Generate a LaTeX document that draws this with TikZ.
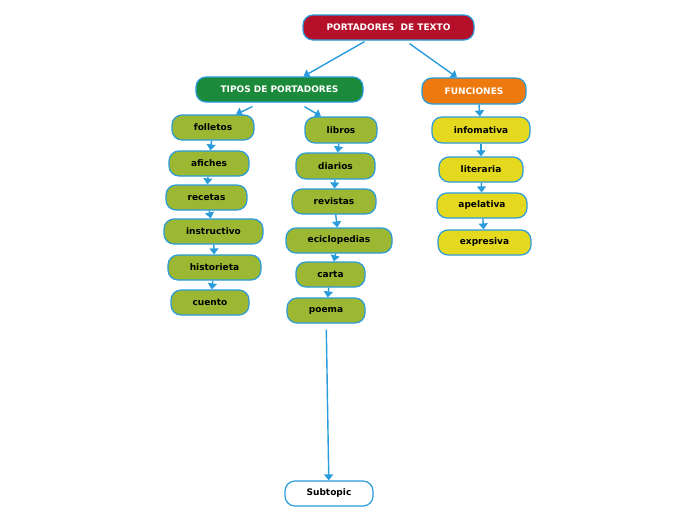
\documentclass[tikz,border=0pt]{standalone}
\usepackage{fontspec}
\setmainfont{DejaVu Sans}
\usetikzlibrary{arrows.meta,calc}
\definecolor{edge}{HTML}{2A9BDB}
\definecolor{rootc}{HTML}{B5102A}
\definecolor{tiposc}{HTML}{1C8A3B}
\definecolor{funcc}{HTML}{EE790F}
\definecolor{leafg}{HTML}{9CB832}
\definecolor{leafy}{HTML}{E5D920}
\tikzset{
  box/.style={draw=edge, line width=1.2pt, rounded corners=10pt, minimum height=25pt, inner sep=0pt, font=\fontsize{9}{11}\selectfont\bfseries, text=black},
  head/.style={box, text=white, font=\fontsize{9}{11}\selectfont\bfseries},
  gleaf/.style={box, fill=leafg},
  yleaf/.style={box, fill=leafy},
  conn/.style={draw=edge, line width=1.4pt, -{Triangle[width=9pt,length=6pt]}}
}
\begin{document}
\begin{tikzpicture}[x=1pt,y=-1pt]
\useasboundingbox (0,0) rectangle (696,520);
\node[head, fill=rootc, minimum width=171pt] (root) at (388.5,27.5) {PORTADORES\ \ DE TEXTO};
\node[head, fill=tiposc, minimum width=167pt] (tipos) at (279.5,89.5) {TIPOS DE PORTADORES};
\node[head, fill=funcc, minimum width=104pt, minimum height=26pt] (func) at (474,91) {FUNCIONES};
% left column
\node[gleaf, minimum width=82pt] (folletos) at (213,127.5) {folletos};
\node[gleaf, minimum width=80pt] (afiches) at (209,163.5) {afiches};
\node[gleaf, minimum width=81pt] (recetas) at (206.5,197.5) {recetas};
\node[gleaf, minimum width=99pt] (instructivo) at (213.5,231.5) {instructivo};
\node[gleaf, minimum width=93pt] (historieta) at (214.5,267.5) {historieta};
\node[gleaf, minimum width=78pt] (cuento) at (210,302.5) {cuento};
% middle column
\node[gleaf, minimum width=72pt, minimum height=26pt] (libros) at (341,130) {libros};
\node[gleaf, minimum width=79pt, minimum height=26pt] (diarios) at (335.5,166) {diarios};
\node[gleaf, minimum width=84pt] (revistas) at (334,201.5) {revistas};
\node[gleaf, minimum width=106pt] (eciclo) at (339,240.5) {eciclopedias};
\node[gleaf, minimum width=69pt] (carta) at (330.5,274.5) {carta};
\node[gleaf, minimum width=78pt] (poema) at (326,310.5) {poema};
% right column
\node[yleaf, minimum width=98pt, minimum height=26pt] (info) at (481,130) {infomativa};
\node[yleaf, minimum width=84pt] (lit) at (481,169.5) {literaria};
\node[yleaf, minimum width=90pt] (apel) at (482,205.5) {apelativa};
\node[yleaf, minimum width=93pt] (expr) at (484.5,242.5) {expresiva};
% subtopic
\node[box, fill=white, minimum width=88pt] (sub) at (329,493.5) {Subtopic};
% connectors
\draw[conn] ([xshift=-24pt,yshift=-1pt]root.south) -- ([xshift=24pt]tipos.north);
\draw[conn] ([xshift=21pt,yshift=-3pt]root.south) -- ([xshift=-17pt]func.north);
\draw[conn] ([xshift=-27pt,yshift=-4pt]tipos.south) -- ([xshift=23pt]folletos.north);
\draw[conn] ([xshift=25pt,yshift=-4pt]tipos.south) -- ([xshift=-20pt]libros.north);
\draw[conn] (folletos) -- (afiches);
\draw[conn] (afiches) -- (recetas);
\draw[conn] (recetas) -- (instructivo);
\draw[conn] (instructivo) -- (historieta);
\draw[conn] (historieta) -- (cuento);
\draw[conn] (libros) -- (diarios);
\draw[conn] (diarios) -- (revistas);
\draw[conn] (revistas) -- (eciclo);
\draw[conn] (eciclo) -- (carta);
\draw[conn] (carta) -- (poema);
\draw[conn] ([xshift=5pt]func.south) -- (info);
\draw[conn] (info) -- (lit);
\draw[conn] (lit) -- (apel);
\draw[conn] (apel) -- (expr);
\draw[conn, shorten <=6pt] (poema) -- (sub);
\end{tikzpicture}
\end{document}
